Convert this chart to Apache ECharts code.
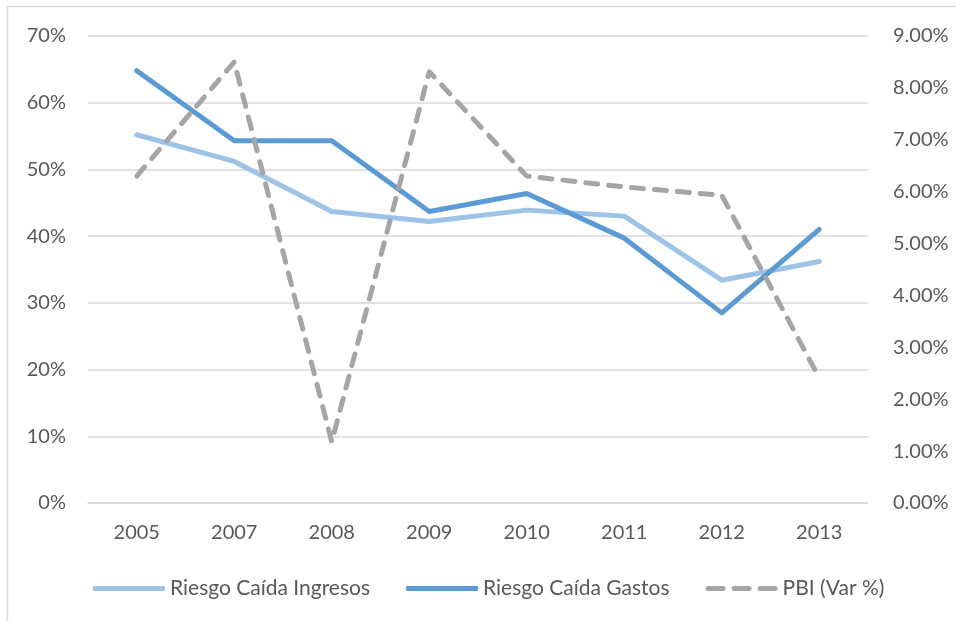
<!DOCTYPE html>
<html>
<head>
<meta charset="utf-8">
<script src="https://cdn.jsdelivr.net/npm/echarts@6/dist/echarts.min.js"></script>
<style>
html,body{margin:0;padding:0;background:#fff;}
#main{width:956px;height:621px;}
</style>
</head>
<body>
<div id="main"></div>
<script>
var categories = ['2005','2007','2008','2009','2010','2011','2012','2013'];
var ingresos = [55.2, 51.2, 43.7, 42.2, 43.9, 43.0, 33.4, 36.2];
var gastos   = [64.8, 54.3, 54.3, 43.7, 46.4, 39.7, 28.5, 41.0];
var pbi      = [6.30, 8.50, 1.18, 8.31, 6.30, 6.09, 5.93, 2.41];
var seriesNames = ['Riesgo Caída Ingresos', 'Riesgo Caída Gastos', 'PBI (Var %)'];

var FONT = 'Lato';
var TXT = '#595959';
var dashIcon = 'path://M2.5,0H17.5A2.5,2.5,0,0,1,17.5,5H2.5A2.5,2.5,0,0,1,2.5,0Z M28.5,0H43.5A2.5,2.5,0,0,1,43.5,5H28.5A2.5,2.5,0,0,1,28.5,0Z M54.5,0H69.5A2.5,2.5,0,0,1,69.5,5H54.5A2.5,2.5,0,0,1,54.5,0Z';
var chart = echarts.init(document.getElementById('main'), null, {renderer:'canvas'});
chart.setOption({
  animation:false,
  backgroundColor:'#ffffff',
  graphic:[{type:'rect', shape:{x:7.5,y:6.5,width:1000,height:1000}, style:{fill:'none', stroke:'#D9D9D9', lineWidth:1.5}, silent:true}],
  grid:{left:88, right:88, top:36, bottom:118, containLabel:false},
  legend:{
    left:88, top:573, itemWidth:72, itemHeight:5, itemGap:36,
    itemStyle:{borderWidth:0},
    textStyle:{fontFamily:FONT, fontSize:21, color:TXT},
    data:[
      {name:seriesNames[0], icon:'roundRect'},
      {name:seriesNames[1], icon:'roundRect'},
      {name:seriesNames[2], icon:dashIcon}
    ]
  },
  xAxis:{
    type:'category', data:categories, boundaryGap:true,
    axisLine:{lineStyle:{color:'#D9D9D9', width:1.5}},
    axisTick:{show:false},
    axisLabel:{fontFamily:FONT, fontSize:20, color:TXT, margin:20}
  },
  yAxis:[
    {type:'value', min:0, max:70, interval:10, position:'left',
     axisLine:{show:false}, axisTick:{show:false},
     splitLine:{lineStyle:{color:'#D9D9D9', width:1.5}},
     axisLabel:{fontFamily:FONT, fontSize:20, color:TXT, margin:22, formatter:function(v){return v+'%';}}},
    {type:'value', min:0, max:9, interval:1, position:'right',
     axisLine:{show:false}, axisTick:{show:false}, splitLine:{show:false},
     axisLabel:{fontFamily:FONT, fontSize:20, color:TXT, margin:25, formatter:function(v){return v.toFixed(2)+'%';}}}
  ],
  series:[
    {name:seriesNames[0], type:'line', data:ingresos, yAxisIndex:0, symbol:'none', showSymbol:false,
     itemStyle:{color:'#9DC3E6'}, lineStyle:{color:'#9DC3E6', width:5, cap:'round', join:'round'}},
    {name:seriesNames[1], type:'line', data:gastos, yAxisIndex:0, symbol:'none', showSymbol:false,
     itemStyle:{color:'#5B9BD5'}, lineStyle:{color:'#5B9BD5', width:5, cap:'round', join:'round'}},
    {name:seriesNames[2], type:'line', data:pbi, yAxisIndex:1, symbol:'none', showSymbol:false,
     itemStyle:{color:'#A5A5A5'}, lineStyle:{color:'#A5A5A5', width:5, type:[12,11], cap:'round', join:'round'}}
  ]
});
</script>
</body>
</html>
